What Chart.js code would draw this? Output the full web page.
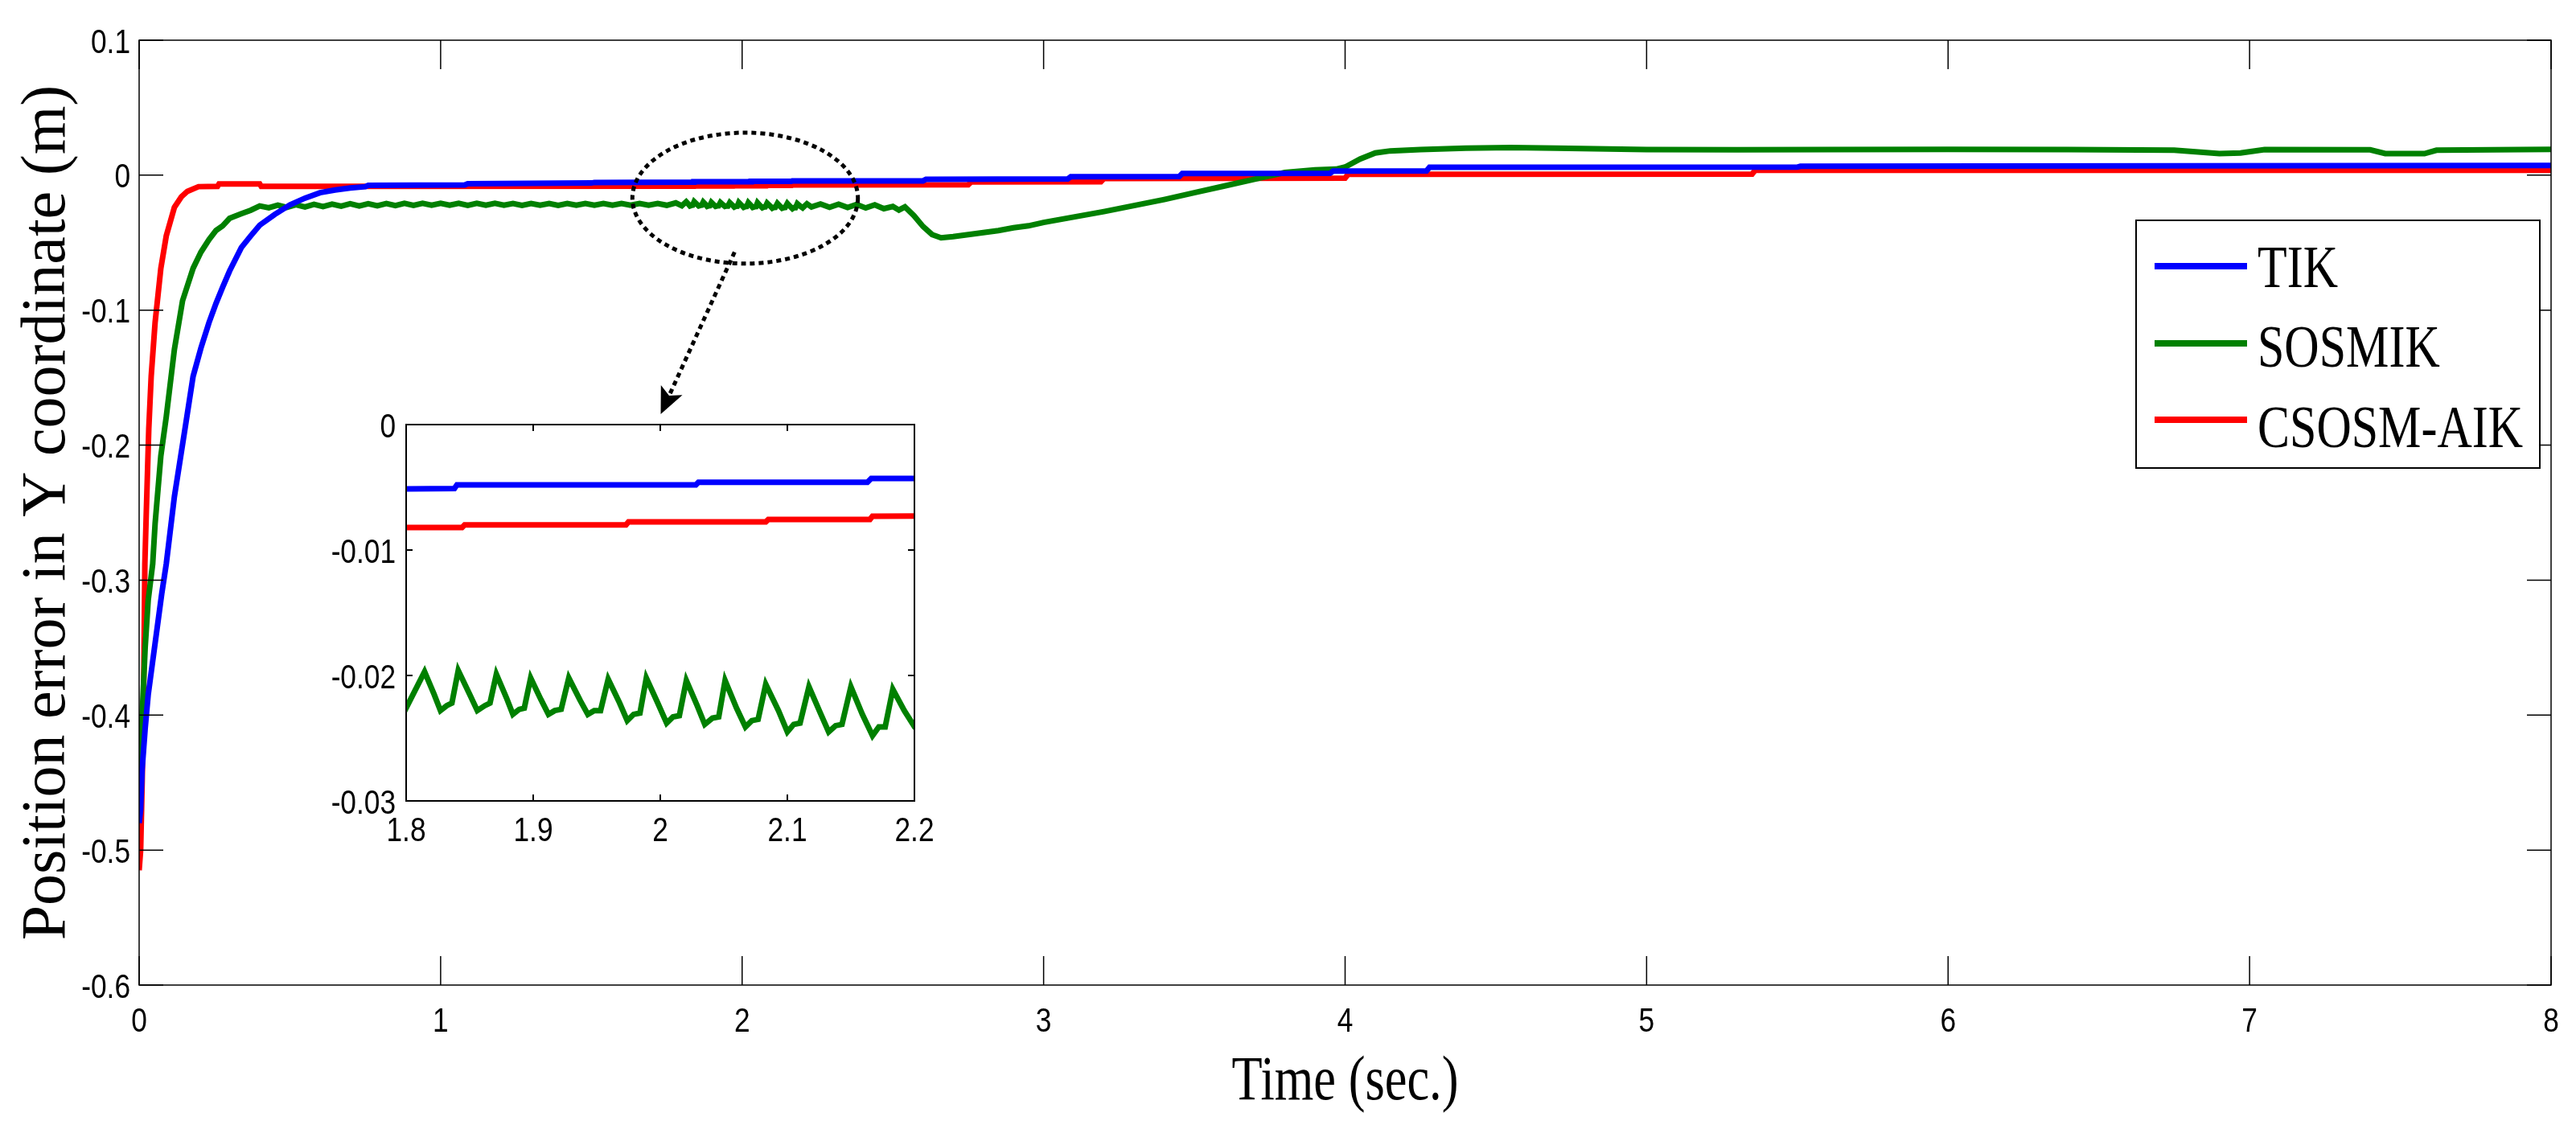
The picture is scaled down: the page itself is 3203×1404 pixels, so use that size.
<!DOCTYPE html>
<html>
<head>
<meta charset="utf-8">
<script src="https://cdn.jsdelivr.net/npm/chart.js@4.4.1/dist/chart.umd.min.js"></script>
<style>
  html, body { margin: 0; padding: 0; background: #fff; }
  #wrap { position: relative; width: 3203px; height: 1404px; overflow: hidden; }
  #main { position: absolute; left: 0; top: 0; }
  #inset { position: absolute; left: 380px; top: 500px; }
</style>
</head>
<body>
<div id="wrap">
  <canvas id="main" width="3203" height="1404"></canvas>
  <canvas id="inset" width="800" height="570"></canvas>
</div>
<script>
// ---- data ----
const seriesNames = ["TIK", "SOSMIK", "CSOSM-AIK"];
const seriesColors = ["#0000ff", "#008000", "#ff0000"];

const tikT = [0, 0.005, 0.01, 0.02, 0.03, 0.045, 0.06, 0.075, 0.09, 0.117, 0.152, 0.179, 0.205, 0.232, 0.255, 0.277, 0.3, 0.339, 0.37, 0.4, 0.45, 0.5, 0.55, 0.6, 0.65, 0.7, 0.75, 0.76, 1.08, 1.09, 1.5, 1.51, 1.838, 1.84, 2.028, 2.03, 2.163, 2.166, 2.6, 2.61, 3.08, 3.09, 3.45, 3.46, 3.95, 3.96, 4.27, 4.28, 5.5, 5.51, 8];
const tikY = [-0.48, -0.47, -0.44, -0.41, -0.385, -0.36, -0.335, -0.31, -0.288, -0.238, -0.188, -0.149, -0.128, -0.109, -0.095, -0.083, -0.071, -0.0536, -0.045, -0.037, -0.029, -0.022, -0.017, -0.013, -0.011, -0.0095, -0.0085, -0.0075, -0.0072, -0.0063, -0.0058, -0.0054, -0.0051, -0.0048, -0.0048, -0.0046, -0.0046, -0.0043, -0.0042, -0.003, -0.0028, -0.0012, -0.001, 0.0012, 0.0014, 0.003, 0.0032, 0.0058, 0.006, 0.0066, 0.0072];

const sosT = [0, 0.01, 0.02, 0.03, 0.045, 0.053, 0.072, 0.09, 0.117, 0.144, 0.179, 0.205, 0.232, 0.255, 0.277, 0.3, 0.339, 0.37,
  0.4, 0.43, 0.46, 0.49, 0.52, 0.55, 0.58, 0.61, 0.64, 0.67, 0.7, 0.73, 0.76, 0.79, 0.82, 0.85, 0.88, 0.91, 0.94, 0.97,
  1.0, 1.03, 1.06, 1.09, 1.12, 1.15, 1.18, 1.21, 1.24, 1.27, 1.3, 1.33, 1.36, 1.39, 1.42, 1.45, 1.48, 1.51, 1.54, 1.57,
  1.6, 1.63, 1.66, 1.69, 1.72, 1.75, 1.78,
  1.8, 1.8145, 1.822, 1.827, 1.832, 1.836, 1.841, 1.85, 1.856, 1.862, 1.866, 1.871, 1.879, 1.884, 1.889, 1.893, 1.898,
  1.906, 1.912, 1.917, 1.922, 1.928, 1.937, 1.943, 1.948, 1.953, 1.959, 1.968, 1.974, 1.979, 1.984, 1.989, 1.998, 2.005,
  2.01, 2.015, 2.0205, 2.029, 2.035, 2.041, 2.046, 2.051, 2.06, 2.067, 2.072, 2.077, 2.083, 2.093, 2.1, 2.105, 2.11,
  2.117, 2.126, 2.1325, 2.138, 2.143, 2.15, 2.159, 2.167, 2.172, 2.177, 2.183, 2.192, 2.2008,
  2.215, 2.23, 2.26, 2.29, 2.32, 2.35, 2.38, 2.41, 2.44, 2.47, 2.5, 2.52, 2.54, 2.57, 2.6, 2.63, 2.66, 2.7, 2.75, 2.8,
  2.85, 2.9, 2.95, 3.0, 3.1, 3.2, 3.3, 3.4, 3.5, 3.6, 3.7, 3.8, 3.9, 3.97, 4.0, 4.05, 4.1, 4.15, 4.25, 4.4, 4.55, 4.7,
  5.0, 5.3, 5.6, 6.0, 6.4, 6.75, 6.9, 6.97, 7.05, 7.4, 7.45, 7.58, 7.62, 7.9, 8.0];
const sosY = [-0.45, -0.4, -0.35, -0.315, -0.288, -0.258, -0.208, -0.179, -0.129, -0.093, -0.069, -0.057, -0.0476, -0.041, -0.0375, -0.032, -0.0286, -0.026,
  -0.0228, -0.0242, -0.0222, -0.0238, -0.0219, -0.0235, -0.0216, -0.0232, -0.0214, -0.023, -0.0212, -0.0228, -0.0211, -0.0226, -0.021, -0.0225, -0.0209, -0.0224, -0.0209, -0.0223,
  -0.0209, -0.0223, -0.0209, -0.0224, -0.0209, -0.0223, -0.0209, -0.0223, -0.021, -0.0224, -0.021, -0.0223, -0.021, -0.0224, -0.021, -0.0223, -0.021, -0.0223, -0.021, -0.0223,
  -0.021, -0.0223, -0.021, -0.0223, -0.021, -0.0223, -0.0205,
  -0.0226, -0.0197, -0.0215, -0.0228, -0.0224, -0.0222, -0.0196, -0.0215, -0.0228, -0.0224, -0.0222, -0.0199, -0.0218, -0.0231, -0.0227, -0.0226, -0.0202,
  -0.0219, -0.0231, -0.0228, -0.0227, -0.0202, -0.022, -0.0231, -0.0228, -0.0228, -0.0203, -0.0222, -0.0236, -0.0231, -0.023, -0.0202, -0.0222, -0.0238,
  -0.0233, -0.0232, -0.0204, -0.0224, -0.0239, -0.0234, -0.0233, -0.0204, -0.0226, -0.0241, -0.0236, -0.0235, -0.0207, -0.0228, -0.0245, -0.0239, -0.0238,
  -0.0209, -0.023, -0.0245, -0.024, -0.0239, -0.0209, -0.0231, -0.0248, -0.0241, -0.0241, -0.0211, -0.0228, -0.0242,
  -0.0212, -0.0235, -0.0213, -0.0238, -0.0215, -0.024, -0.0217, -0.0243, -0.022, -0.0248, -0.0232, -0.0258, -0.0235, -0.03, -0.038, -0.044, -0.0464, -0.0455, -0.044, -0.0425,
  -0.041, -0.039, -0.0375, -0.035, -0.031, -0.027, -0.0225, -0.018, -0.013, -0.008, -0.003, 0.002, 0.004, 0.0045, 0.006, 0.012, 0.0165, 0.018, 0.019, 0.02, 0.0205, 0.02,
  0.019, 0.0188, 0.019, 0.0192, 0.019, 0.0185, 0.016, 0.0165, 0.019, 0.0188, 0.016, 0.016, 0.0185, 0.019, 0.0192];

const csoT = [0, 0.005, 0.01, 0.015, 0.019, 0.024, 0.032, 0.04, 0.053, 0.072, 0.09, 0.117, 0.14, 0.16, 0.197, 0.26, 0.265, 0.4, 0.405, 1.844, 1.846, 1.973, 1.975, 2.083, 2.085, 2.165, 2.167, 2.75, 2.76, 3.19, 3.2, 4.0, 4.01, 5.35, 5.36, 8];
const csoY = [-0.515, -0.5, -0.45, -0.38, -0.288, -0.248, -0.188, -0.149, -0.109, -0.069, -0.045, -0.0238, -0.016, -0.012, -0.0085, -0.0083, -0.0065, -0.0065, -0.0083, -0.0082, -0.008, -0.008, -0.00776, -0.00776, -0.00756, -0.00756, -0.0073, -0.0071, -0.005, -0.0049, -0.0025, -0.0022, 0.0006, 0.0008, 0.0036, 0.0037];

const mainXTicks = [0, 1, 2, 3, 4, 5, 6, 7, 8];
const mainYTicks = [0.1, 0, -0.1, -0.2, -0.3, -0.4, -0.5, -0.6];
const insetXTicks = [1.8, 1.9, 2, 2.1, 2.2];
const insetYTicks = [0, -0.01, -0.02, -0.03];

const xTitle = "Time (sec.)";
const yTitle = "Position error in Y coordinate (m)";

// zoom marker, in data units
const zoomEllipse = { cx: 2.01, cy: -0.017, rx: 0.374, ry: 0.0485 };
const zoomArrow = { x0: 1.975, y0: -0.057, x1: 1.73, y1: -0.177 };

// ---- helpers ----
const sans = "'Liberation Sans', Arial, sans-serif";
const serif = "'Liberation Serif', 'Times New Roman', serif";
const squeeze = 0.82;

function pts(t, v) {
  return t.map((x, i) => ({ x, y: v[i] }));
}

function datasets(width) {
  const src = [[tikT, tikY], [sosT, sosY], [csoT, csoY]];
  return src.map(([t, v], i) => ({
    label: seriesNames[i],
    data: pts(t, v),
    borderColor: seriesColors[i],
    backgroundColor: seriesColors[i],
    borderWidth: width,
    pointRadius: 0,
    tension: 0,
    fill: false
  }));
}

function fmt(v) {
  return String(Number(Number(v).toFixed(4)));
}

function axis(ticks, min, max, fitKey, fitVal) {
  return {
    type: "linear",
    min, max,
    afterBuildTicks(s) { s.ticks = ticks.map((value) => ({ value })); },
    afterFit(s) { s[fitKey] = fitVal; },
    grid: { display: false, drawTicks: false },
    border: { display: false },
    ticks: { display: false, autoSkip: false, callback: (v) => fmt(v) }
  };
}

// tick labels drawn at the scale's own tick positions, narrowed like the original
function tickLabelPlugin(yGap, xDrop) {
  return {
    id: "tickLabels",
    afterDraw(c) {
      const { ctx, chartArea: a, scales: { x, y } } = c;
      ctx.save();
      ctx.fillStyle = "#000";
      ctx.font = `43px ${sans}`;
      ctx.textBaseline = "alphabetic";
      ctx.scale(squeeze, 1);
      ctx.textAlign = "right";
      y.ticks.forEach((t) => {
        ctx.fillText(fmt(t.value), (a.left - yGap) / squeeze, y.getPixelForValue(t.value) + 15.5);
      });
      ctx.textAlign = "center";
      x.ticks.forEach((t) => {
        ctx.fillText(fmt(t.value), x.getPixelForValue(t.value) / squeeze, a.bottom + xDrop);
      });
      ctx.restore();
    }
  };
}

function framePlugin(xt, yt, lw, fillWhite) {
  return {
    id: "frame",
    beforeDatasetsDraw(c) {
      if (!fillWhite) return;
      const { ctx, chartArea: a } = c;
      ctx.save();
      ctx.fillStyle = "#fff";
      ctx.fillRect(a.left, a.top, a.right - a.left, a.bottom - a.top);
      ctx.restore();
    },
    afterDatasetsDraw(c) {
      const { ctx, chartArea: a, scales } = c;
      ctx.save();
      ctx.strokeStyle = "#000";
      ctx.lineWidth = lw;
      ctx.strokeRect(a.left, a.top, a.right - a.left, a.bottom - a.top);
      ctx.beginPath();
      scales.x.ticks.forEach((t) => {
        const px = scales.x.getPixelForValue(t.value);
        ctx.moveTo(px, a.bottom); ctx.lineTo(px, a.bottom - xt);
        ctx.moveTo(px, a.top); ctx.lineTo(px, a.top + xt);
      });
      scales.y.ticks.forEach((t) => {
        const py = scales.y.getPixelForValue(t.value);
        ctx.moveTo(a.left, py); ctx.lineTo(a.left + yt, py);
        ctx.moveTo(a.right, py); ctx.lineTo(a.right - yt, py);
      });
      ctx.stroke();
      ctx.restore();
    }
  };
}

const zoomMarkPlugin = {
  id: "zoomMark",
  afterDatasetsDraw(c) {
    const { ctx, scales: { x, y } } = c;
    ctx.save();
    ctx.strokeStyle = "#000";
    ctx.lineWidth = 5;
    ctx.setLineDash([6, 5]);

    const cx = x.getPixelForValue(zoomEllipse.cx);
    const cy = y.getPixelForValue(zoomEllipse.cy);
    const rx = x.getPixelForValue(zoomEllipse.cx + zoomEllipse.rx) - cx;
    const ry = cy - y.getPixelForValue(zoomEllipse.cy + zoomEllipse.ry);
    ctx.beginPath();
    ctx.ellipse(cx, cy, rx, ry, 0, 0, Math.PI * 2);
    ctx.stroke();

    const ax0 = x.getPixelForValue(zoomArrow.x0), ay0 = y.getPixelForValue(zoomArrow.y0);
    const ax1 = x.getPixelForValue(zoomArrow.x1), ay1 = y.getPixelForValue(zoomArrow.y1);
    const ang = Math.atan2(ay1 - ay0, ax1 - ax0);
    const head = 36;
    ctx.beginPath();
    ctx.moveTo(ax0, ay0);
    ctx.lineTo(ax1 - Math.cos(ang) * head * 0.6, ay1 - Math.sin(ang) * head * 0.6);
    ctx.stroke();

    ctx.setLineDash([]);
    ctx.fillStyle = "#000";
    ctx.beginPath();
    ctx.moveTo(ax1, ay1);
    ctx.lineTo(ax1 - head * Math.cos(ang - 0.42), ay1 - head * Math.sin(ang - 0.42));
    ctx.lineTo(ax1 - head * 0.7 * Math.cos(ang), ay1 - head * 0.7 * Math.sin(ang));
    ctx.lineTo(ax1 - head * Math.cos(ang + 0.42), ay1 - head * Math.sin(ang + 0.42));
    ctx.closePath();
    ctx.fill();
    ctx.restore();
  }
};

const titlesPlugin = {
  id: "titles",
  afterDraw(c) {
    const { ctx, chartArea: a } = c;
    ctx.save();
    ctx.fillStyle = "#000";
    ctx.textAlign = "center";
    ctx.textBaseline = "alphabetic";

    ctx.font = `79px ${serif}`;
    ctx.save();
    ctx.scale(0.79, 1);
    ctx.fillText(xTitle, ((a.left + a.right) / 2) / 0.79, 1367);
    ctx.restore();

    ctx.font = `78px ${serif}`;
    ctx.translate(80, (a.top + a.bottom) / 2);
    ctx.rotate(-Math.PI / 2);
    ctx.fillText(yTitle, 0, 0);
    ctx.restore();
  }
};

const legendBoxPlugin = {
  id: "legendBox",
  afterDraw(c) {
    const { ctx } = c;
    const box = { left: 2656, top: 274, right: 3158, bottom: 582 };
    const lineY = [331, 427, 522];
    const baseY = [357, 456, 556];
    ctx.save();
    ctx.fillStyle = "#fff";
    ctx.fillRect(box.left, box.top, box.right - box.left, box.bottom - box.top);
    ctx.strokeStyle = "#000";
    ctx.lineWidth = 2;
    ctx.strokeRect(box.left, box.top, box.right - box.left, box.bottom - box.top);
    c.data.datasets.forEach((ds, i) => {
      ctx.strokeStyle = ds.borderColor;
      ctx.lineWidth = 8;
      ctx.beginPath();
      ctx.moveTo(2679, lineY[i]);
      ctx.lineTo(2794, lineY[i]);
      ctx.stroke();
      ctx.save();
      ctx.fillStyle = "#000";
      ctx.font = `75px ${serif}`;
      ctx.textAlign = "left";
      ctx.textBaseline = "alphabetic";
      ctx.scale(0.8, 1);
      ctx.fillText(ds.label, 2807 / 0.8, baseY[i]);
      ctx.restore();
    });
    ctx.restore();
  }
};

new Chart(document.getElementById("main"), {
  type: "line",
  data: { datasets: datasets(7) },
  options: {
    responsive: false,
    animation: false,
    devicePixelRatio: 1,
    layout: { padding: { left: 0, top: 50, right: 31, bottom: 0 } },
    plugins: { legend: { display: false }, tooltip: { enabled: false } },
    scales: {
      x: axis(mainXTicks, 0, 8, "height", 179),
      y: axis(mainYTicks, -0.6, 0.1, "width", 173)
    }
  },
  plugins: [framePlugin(36, 30, 1.5, false), tickLabelPlugin(11, 58), zoomMarkPlugin, titlesPlugin, legendBoxPlugin]
});

new Chart(document.getElementById("inset"), {
  type: "line",
  data: { datasets: datasets(7) },
  options: {
    responsive: false,
    animation: false,
    devicePixelRatio: 1,
    layout: { padding: { left: 0, top: 28, right: 43, bottom: 0 } },
    plugins: { legend: { display: false }, tooltip: { enabled: false } },
    scales: {
      x: axis(insetXTicks, 1.8, 2.2, "height", 74),
      y: axis(insetYTicks, -0.03, 0, "width", 125)
    }
  },
  plugins: [framePlugin(8, 8, 2, true), tickLabelPlugin(13, 50)]
});
</script>
</body>
</html>
